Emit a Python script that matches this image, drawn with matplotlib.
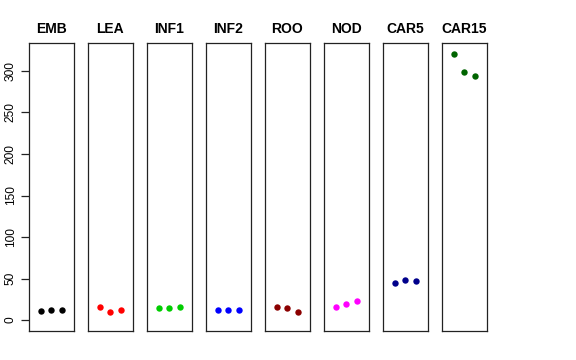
import matplotlib.pyplot as plt

# --- DATA ---
groups = ["EMB", "LEA", "INF1", "INF2", "ROO", "NOD", "CAR5", "CAR15"]
colors = ["black", "red", "#00CD00", "blue", "#8B0000", "magenta", "#00008B", "#006400"]

emb = [11.2, 11.7, 11.7]
lea = [15.3, 9.3, 11.7]
inf1 = [14.4, 14.4, 16.0]
inf2 = [12.4, 12.4, 12.4]
roo = [16.0, 14.0, 9.6]
nod = [15.3, 18.9, 22.5]
car5 = [44.5, 47.7, 46.9]
car15 = [320.5, 298.8, 294.5]

series = [emb, lea, inf1, inf2, roo, nod, car5, car15]
x = [1, 2, 3]
yticks = [0, 50, 100, 150, 200, 250, 300]

plt.rcParams["font.family"] = ["Liberation Sans", "DejaVu Sans"]

# --- PLOT ---
W, H = 576, 360
fig = plt.figure(figsize=(W / 100, H / 100), dpi=100)

left0, step, width = 29, 59, 44.5
top, bottom = 43, 331

for i, (name, vals, col) in enumerate(zip(groups, series, colors)):
    ax = fig.add_axes([(left0 + i * step) / W, 1 - bottom / H,
                       width / W, (bottom - top) / H])
    ax.plot(x, vals, "o", color=col, markersize=4.6, markeredgewidth=0)
    ax.set_xlim(-0.1, 4.1)
    ax.set_ylim(-13.2, 333.7)
    ax.set_xticks([])
    for s in ax.spines.values():
        s.set_linewidth(0.9)
        s.set_color("#222222")
    ax.set_title(name, fontsize=10, fontweight="bold", pad=7)
    if i == 0:
        ax.set_yticks(yticks)
        ax.tick_params(axis="y", length=5.8, width=0.9, color="#222222",
                       labelsize=8.6, pad=3)
        for lab in ax.get_yticklabels():
            lab.set_rotation(90)
            lab.set_va("center")
    else:
        ax.set_yticks([])

fig.savefig("out.png", dpi=100)
